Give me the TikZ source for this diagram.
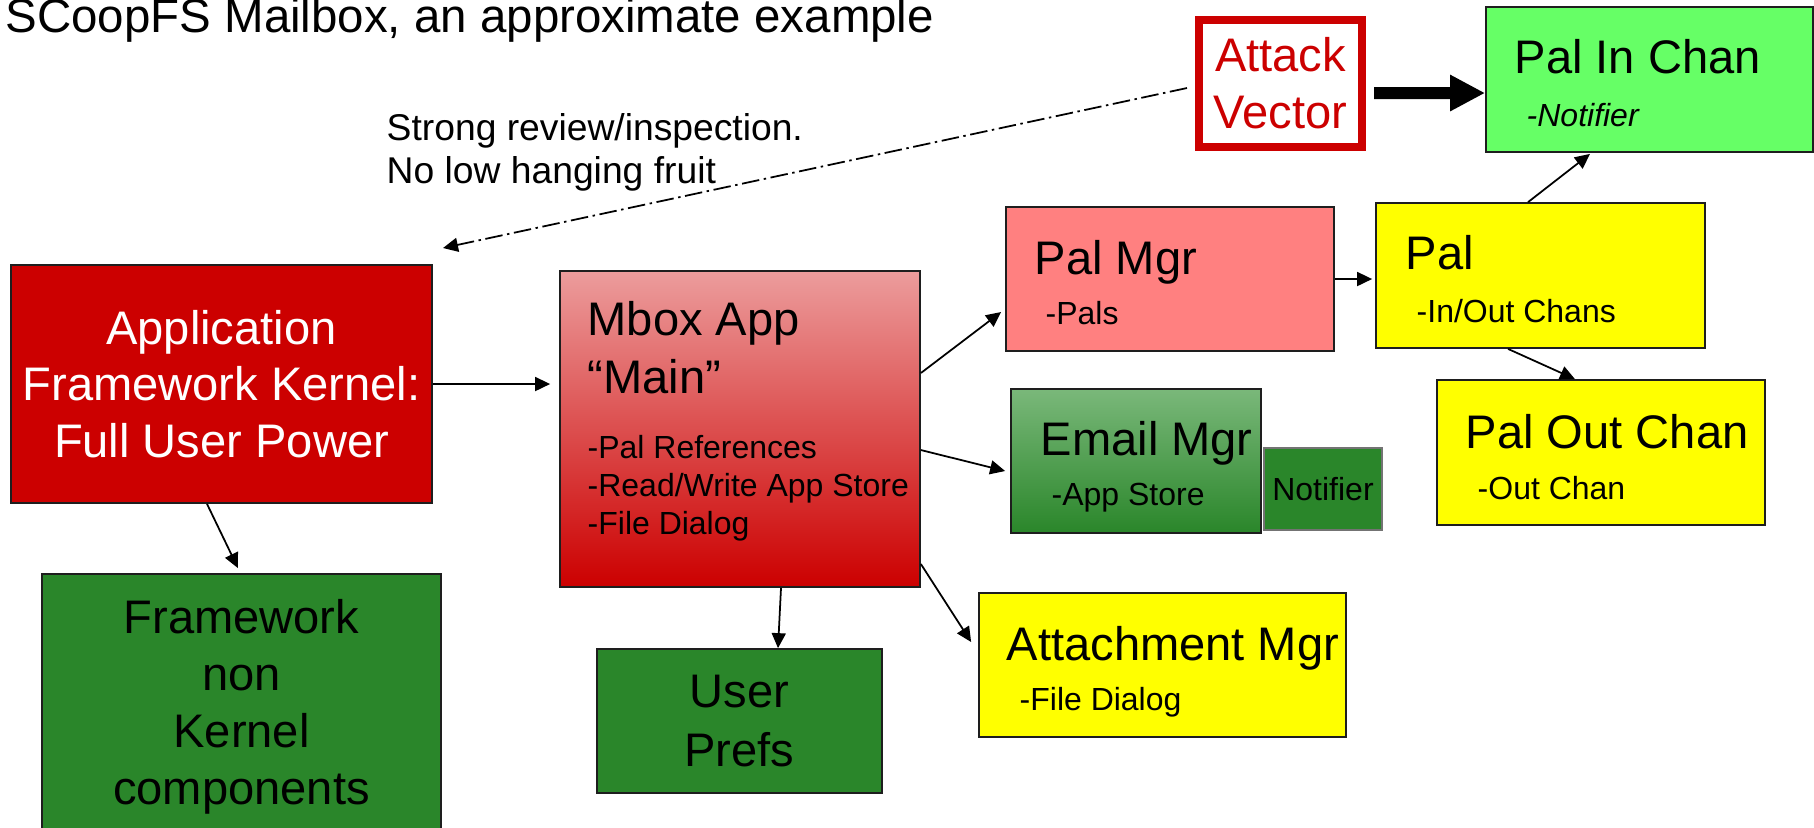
\documentclass[tikz,border=0pt]{standalone}
\usepackage{fontspec}
\setmainfont{Liberation Sans}
\usetikzlibrary{arrows.meta}
\definecolor{kernelred}{RGB}{204,0,0}
\definecolor{mboxpink}{RGB}{236,156,156}
\definecolor{compgreen}{RGB}{42,134,42}
\definecolor{emaillight}{RGB}{122,184,122}
\definecolor{palmgrpink}{RGB}{255,128,128}
\definecolor{inchangreen}{RGB}{102,255,102}
\definecolor{chanyellow}{RGB}{255,255,0}
\definecolor{edgegray}{RGB}{30,30,30}

\begin{document}
\begin{tikzpicture}[
    box/.style={draw=edgegray, line width=0.5pt, inner sep=0pt, align=center},
    big/.style={font=\fontsize{13.4}{16.2}\selectfont},
    small/.style={font=\fontsize{9.1}{11}\selectfont},
    txt/.style={anchor=base west, inner sep=0pt},
    link/.style={-{Triangle[length=0.15cm,width=0.14cm]}, line width=0.5pt}
  ]
  \useasboundingbox (0,0) rectangle (18.14,-8.27);
  \clip (0,0) rectangle (18.14,-8.27);

  % Title and note
  \node[txt, font=\fontsize{13.5}{16}\selectfont] (title) at (0.05,-0.32) {SCoopFS Mailbox, an approximate example};
  \node[txt, font=\fontsize{10.6}{12}\selectfont] (note1) at (3.86,-1.40) {Strong review/inspection.};
  \node[txt, font=\fontsize{10.6}{12}\selectfont] (note2) at (3.86,-1.83) {No low hanging fruit};

  % Kernel side
  \node[box, big, fill=kernelred, text=white, minimum width=4.21cm, minimum height=2.38cm,
        font=\fontsize{13.4}{16.1}\selectfont] (kernel) at (2.215,-3.84)
        {Application\\Framework Kernel:\\Full User Power};
  \node[box, big, fill=compgreen, minimum width=3.99cm, minimum height=2.66cm] (framework) at (2.415,-7.07)
        {Framework\\non\\Kernel\\components};

  % Mbox app
  \node[box, top color=mboxpink, bottom color=kernelred, minimum width=3.60cm, minimum height=3.16cm] (mbox) at (7.40,-4.29) {};
  \node[box, fill=compgreen, minimum width=2.85cm, minimum height=1.44cm,
        font=\fontsize{13.4}{16.8}\selectfont] (userprefs) at (7.395,-7.21) {User\\Prefs};

  % Managers
  \node[box, fill=palmgrpink, minimum width=3.28cm, minimum height=1.44cm] (palmgr) at (11.70,-2.79) {};
  \node[box, top color=emaillight, bottom color=compgreen, minimum width=2.50cm, minimum height=1.44cm] (email) at (11.36,-4.61) {};
  \node[box, small, draw=black!55, fill=compgreen, minimum width=1.18cm, minimum height=0.82cm] (notifier) at (13.23,-4.89) {Notifier};
  \node[box, fill=chanyellow, minimum width=3.67cm, minimum height=1.44cm] (attach) at (11.625,-6.65) {};

  % Pal and channels
  \node[box, fill=chanyellow, minimum width=3.29cm, minimum height=1.45cm] (pal) at (15.405,-2.755) {};
  \node[box, fill=inchangreen, minimum width=3.27cm, minimum height=1.45cm] (palin) at (16.495,-0.795) {};
  \node[box, fill=chanyellow, minimum width=3.28cm, minimum height=1.45cm] (palout) at (16.01,-4.525) {};

  % Attack vector
  \node[box, big, draw=kernelred, line width=0.08cm, fill=white, text=kernelred,
        minimum width=1.63cm, minimum height=1.27cm] (attack) at (12.805,-0.835) {Attack\\Vector};

  % Box texts
  \node[txt, big] (mboxname) at (5.87,-3.35) {Mbox App};
  \node[txt, big] (mboxmain) at (5.87,-3.93) {“Main”};
  \foreach \entry [count=\i] in {-Pal References, -Read/Write App Store, -File Dialog}
    \node[txt, small] (mboxitem\i) at (5.87,{-4.58-0.38*(\i-1)}) {\entry};

  \node[txt, big] (palmgrname) at (10.34,-2.74) {Pal Mgr};
  \node[txt, small] (palmgritem) at (10.45,-3.24) {-Pals};
  \node[txt, big] (emailname) at (10.40,-4.55) {Email Mgr};
  \node[txt, small] (emailitem) at (10.51,-5.05) {-App Store};
  \node[txt, big] (attachname) at (10.06,-6.60) {Attachment Mgr};
  \node[txt, small] (attachitem) at (10.19,-7.10) {-File Dialog};
  \node[txt, big] (palname) at (14.05,-2.69) {Pal};
  \node[txt, small] (palitem) at (14.16,-3.22) {-In/Out Chans};
  \node[txt, big] (palinname) at (15.14,-0.73) {Pal In Chan};
  \node[txt, small] (palinitem) at (15.26,-1.26) {\itshape -Notifier};
  \node[txt, big] (paloutname) at (14.65,-4.48) {Pal Out Chan};
  \node[txt, small] (paloutitem) at (14.77,-4.99) {-Out Chan};

  % Connectors
  \draw[link, shorten >=0.09cm] (kernel.east) -- (mbox.west |- kernel.east);
  \draw[link] ([xshift=-0.145cm]kernel.south) -- ([xshift=-0.035cm,yshift=0.05cm]framework.north);
  \draw[link] ([xshift=0.41cm]mbox.south) -- ([xshift=0.385cm]userprefs.north);
  \draw[link] ([yshift=0.56cm]mbox.east) -- ([xshift=-0.04cm,yshift=-0.33cm]palmgr.west);
  \draw[link] ([yshift=-0.21cm]mbox.east) -- ([xshift=-0.05cm,yshift=-0.10cm]email.west);
  \draw[link] ([yshift=-1.35cm]mbox.east) -- ([xshift=-0.07cm,yshift=0.23cm]attach.west);
  \draw[link, shorten >=0.03cm] (palmgr.east) -- (pal.west |- palmgr.east);
  \draw[link] ([xshift=-0.125cm]pal.north) -- ([xshift=-0.595cm,yshift=-0.01cm]palin.south);
  \draw[link] ([xshift=-0.325cm]pal.south) -- ([xshift=-0.26cm]palout.north);

  % Attack paths
  \draw[line width=0.12cm, -{Triangle[length=0.35cm,width=0.34cm]}]
    ([xshift=0.08cm,yshift=-0.095cm]attack.east) -- ([yshift=-0.135cm]palin.west);
  \coordinate (reviewtip) at (4.43,-2.48);
  \draw[line width=0.5pt, dash pattern=on 5pt off 1.3pt on 0.7pt off 1.3pt,
        -{Triangle[length=0.15cm,width=0.14cm]}]
    ([xshift=-0.08cm,yshift=-0.045cm]attack.west) -- (reviewtip);
\end{tikzpicture}
\end{document}
